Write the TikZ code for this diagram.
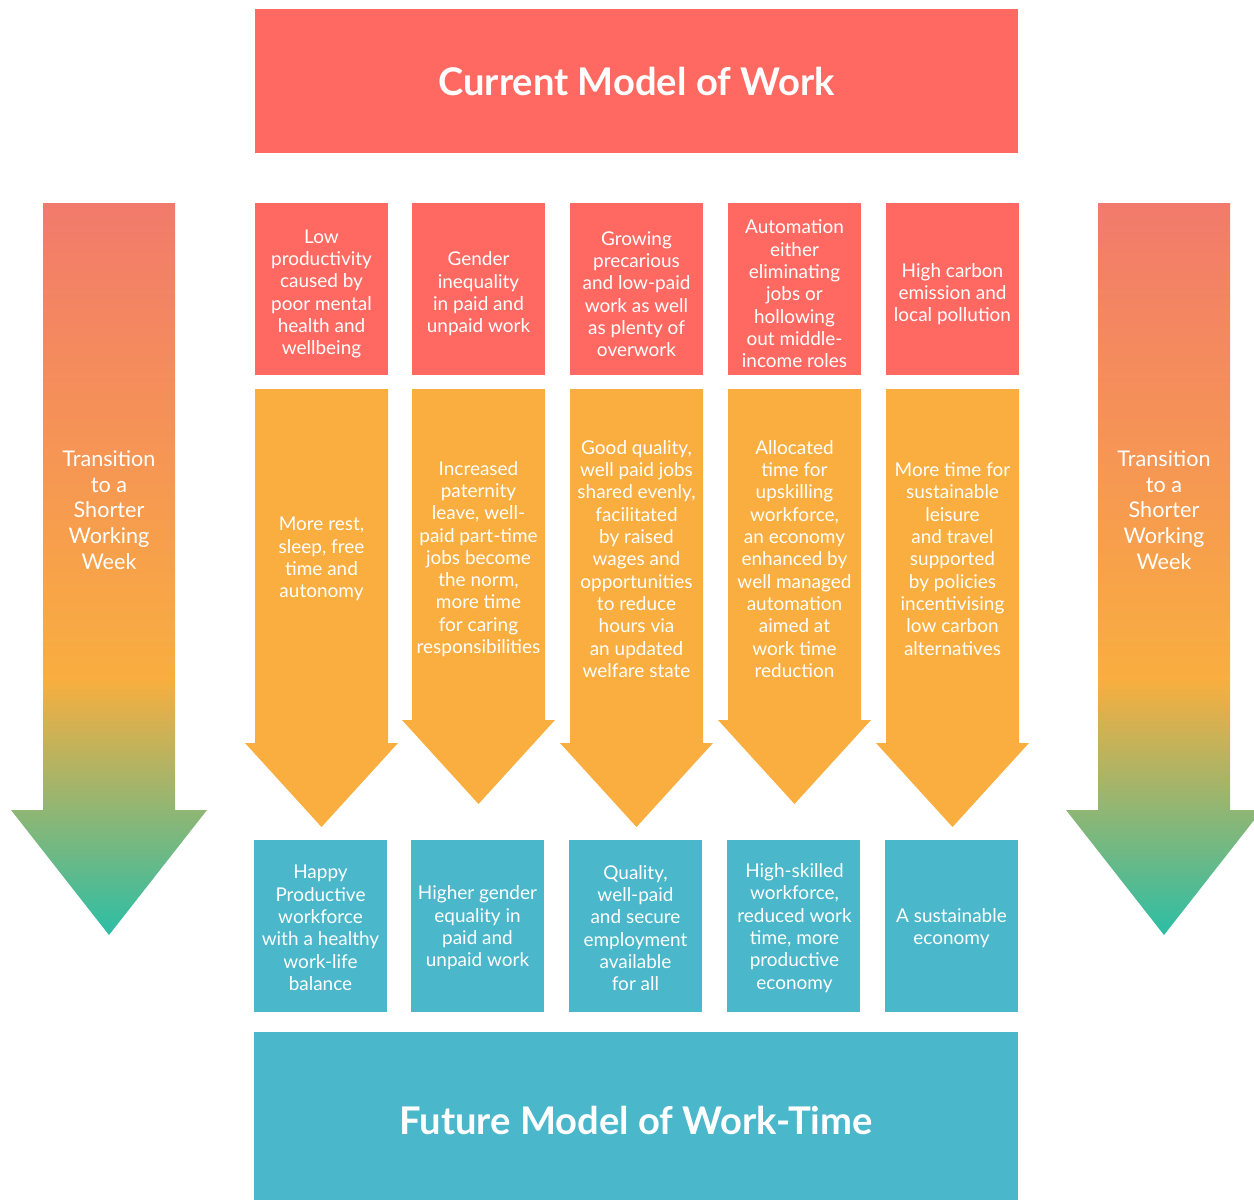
\documentclass[tikz,border=0pt]{standalone}
\usepackage{fontspec}
\setmainfont{Lato}
\usetikzlibrary{calc}

\definecolor{workred}{RGB}{255,105,97}
\definecolor{workorange}{RGB}{249,174,63}
\definecolor{workteal}{RGB}{74,183,203}
\definecolor{transtop}{RGB}{242,122,108}
\definecolor{transtip}{RGB}{44,190,166}

% the path's box is fitted to 25bp--75bp of the shading
\pgfdeclareverticalshading{transition}{100bp}{color(0bp)=(transtip); color(25bp)=(transtip); color(42.5bp)=(workorange); color(75bp)=(transtop); color(100bp)=(transtop)}

\tikzset{
	boxtext/.style = {text = white, align = center, inner sep = 0pt, font = \fontsize{10.8}{12.7}\selectfont},
	title/.style = {text = white, font = \fontsize{21.7}{26}\selectfont\bfseries},
	sidetext/.style = {text = white, align = center, font = \fontsize{12.3}{14.6}\selectfont}
}

\begin{document}
\begin{tikzpicture}[x = 0.02cm, y = -0.02cm]
		\useasboundingbox (0,0) rectangle (1254,1200);

		% headline boxes
		\fill [workred] (255,9) rectangle (1018,153);
		\node [title] (current) at (636.5,81) {Current Model of Work};

		\fill [workteal] (254,1032) rectangle (1018,1200);
		\node [title] (future) at (636,1120) {Future Model of Work-Time};

		% side arrows
		\foreach \c/\side in {109/left, 1164/right} {
			\shade [shading = transition] (\c-66,203) -- (\c+66,203) -- (\c+66,810) -- (\c+98,810) -- (\c,935) -- (\c-98,810) -- (\c-66,810) -- cycle;
			\node [sidetext] (trans\side) at (\c,510) {Transition\\to a\\Shorter\\Working\\Week};
		}

		% boxes and orange arrows
		\foreach \x/\hy in {255/743, 412/720, 570/743, 728/720, 886/743} {
			\fill [workred] (\x,203) rectangle (\x+133,375);
			\fill [workorange] (\x,389) -- (\x+133,389) -- (\x+133,\hy) -- (\x+143,\hy) -- (\x+66.5,\hy+84) -- (\x-10,\hy) -- (\x,\hy) -- cycle;
			\fill [workteal] (\x-1,840) rectangle (\x+132,1012);
		}

		% problems
		\node [boxtext] (prob1) at (321.5,294) {Low\\productivity\\caused by\\poor mental\\health and\\wellbeing};
		\node [boxtext] (prob2) at (478.5,294) {Gender\\inequality\\in paid and\\unpaid work};
		\node [boxtext] (prob3) at (636.5,294) {Growing\\precarious\\and low-paid\\work as well\\as plenty of\\overwork};
		\node [boxtext] (prob4) at (794.5,294) {Automation\\either\\eliminating\\jobs or\\hollowing\\out middle-\\income roles};
		\node [boxtext] (prob5) at (952.5,294) {High carbon\\emission and\\local pollution};

		% measures
		\node [boxtext] (meas1) at (321.5,559) {More rest,\\sleep, free\\time and\\autonomy};
		\node [boxtext] (meas2) at (478.5,559) {Increased\\paternity\\leave, well-\\paid part-time\\jobs become\\the norm,\\more time\\for caring\\responsibilities};
		\node [boxtext] (meas3) at (636.5,559) {Good quality,\\well paid jobs\\shared evenly,\\facilitated\\by raised\\wages and\\opportunities\\to reduce\\hours via\\an updated\\welfare state};
		\node [boxtext] (meas4) at (794.5,559) {Allocated\\time for\\upskilling\\workforce,\\an economy\\enhanced by\\well managed\\automation\\aimed at\\work time\\reduction};
		\node [boxtext] (meas5) at (952.5,559) {More time for\\sustainable\\leisure\\and travel\\supported\\by policies\\incentivising\\low carbon\\alternatives};

		% outcomes
		\node [boxtext] (out1) at (320.5,928) {Happy\\Productive\\workforce\\with a healthy\\work-life\\balance};
		\node [boxtext] (out2) at (477.5,928) {Higher gender\\equality in\\paid and\\unpaid work};
		\node [boxtext] (out3) at (635.5,928) {Quality,\\well-paid\\and secure\\employment\\available\\for all};
		\node [boxtext] (out4) at (794.5,928) {High-skilled\\workforce,\\reduced work\\time, more\\productive\\economy};
		\node [boxtext] (out5) at (951.5,928) {A sustainable\\economy};
	\end{tikzpicture}
\end{document}
